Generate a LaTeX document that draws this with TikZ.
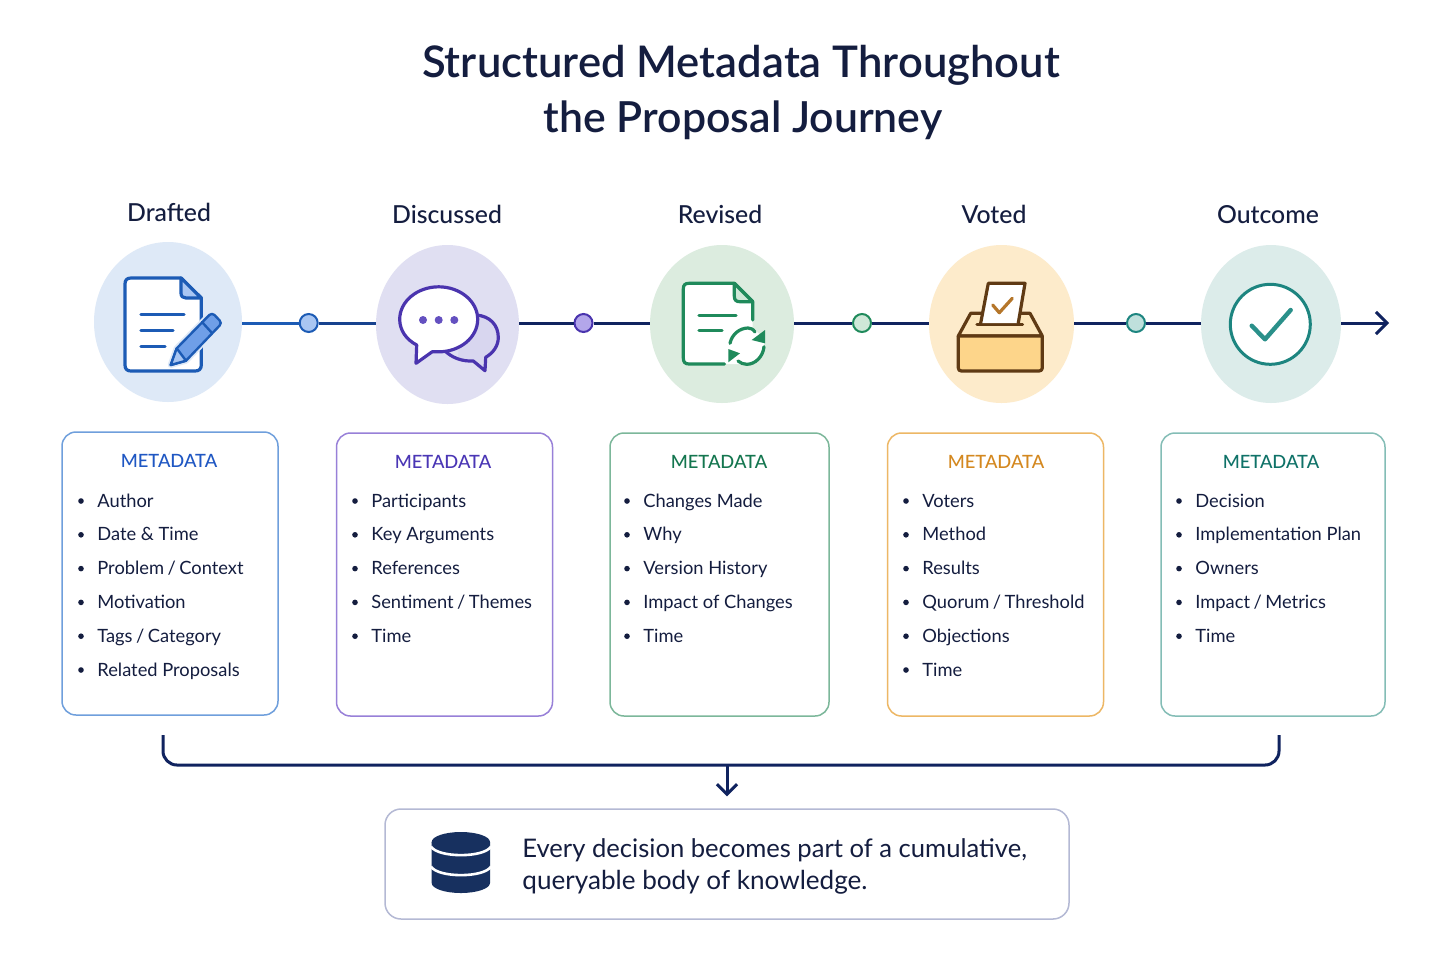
\documentclass[tikz,border=0pt]{standalone}
\usepackage{fontspec}
\setmainfont{Lato}
\newfontfamily\titlefont{Lato Semibold}
\newfontfamily\labelfont{Lato Medium}
\usetikzlibrary{shapes.geometric,arrows.meta}
\definecolor{navy}{HTML}{10235F}
\definecolor{ink}{HTML}{141D3F}
\definecolor{dbnavy}{HTML}{17305F}
\definecolor{bl}{HTML}{1C5BB5}\definecolor{blb}{HTML}{6F9FDC}\definecolor{blt}{HTML}{1F57C3}\definecolor{blc}{HTML}{DEE9F7}\definecolor{bld}{HTML}{A9C6F2}\definecolor{blp}{HTML}{6F9FE8}
\definecolor{pu}{HTML}{4A34AE}\definecolor{pub}{HTML}{9880D8}\definecolor{put}{HTML}{4A36B5}\definecolor{puc}{HTML}{E0DFF2}\definecolor{pud}{HTML}{B3A6EA}\definecolor{pup}{HTML}{D8D6EF}\definecolor{pudot}{HTML}{6450C0}
\definecolor{gr}{HTML}{1F8A5B}\definecolor{grb}{HTML}{7CB79A}\definecolor{grt}{HTML}{14764F}\definecolor{grc}{HTML}{DCECDF}\definecolor{grd}{HTML}{CFE8D8}
\definecolor{or}{HTML}{5F3A14}\definecolor{orb}{HTML}{EDB765}\definecolor{ort}{HTML}{D4881F}\definecolor{orc}{HTML}{FDEBCB}\definecolor{orf}{HTML}{FDD58A}\definecolor{orl}{HTML}{FDE7BD}\definecolor{orck}{HTML}{B5762A}
\definecolor{te}{HTML}{1D8580}\definecolor{teb}{HTML}{84BDB6}\definecolor{tet}{HTML}{0F7268}\definecolor{tec}{HTML}{DCECEA}\definecolor{ted}{HTML}{BFE0DC}\definecolor{teck}{HTML}{2A908A}
\definecolor{sumb}{HTML}{B4B9D4}
\tikzset{
  maintitle/.style={font=\titlefont\fontsize{21.8}{26}\selectfont,text=ink,anchor=base,inner sep=0pt},
  stagelabel/.style={font=\labelfont\fontsize{12.4}{14}\selectfont,text=ink,anchor=base,inner sep=0pt},
  halo/.style={shape=ellipse,draw=none,inner sep=0pt},
  flowdot/.style={circle,inner sep=0pt,minimum size=9pt,line width=1pt},
  flowline/.style={line width=1.5pt},
  metacard/.style={rounded corners=7pt,fill=white,line width=0.75pt,inner sep=0pt,minimum width=108pt,minimum height=141.5pt},
  metahead/.style={font=\labelfont\fontsize{9.15}{11}\selectfont,anchor=base,inner sep=0pt},
  metaitem/.style={font=\fontsize{9.15}{11}\selectfont,text=ink,anchor=base west,inner sep=0pt},
  iconline/.style={line width=1.6pt,line cap=round,line join=round},
  pencilline/.style={line width=1.2pt,line cap=round,line join=round},
  summary/.style={text=ink,anchor=base west,inner sep=0pt},
}
\newcommand{\tsl}{\kern-0.6pt\ /\ \kern-0.6pt}
\newcommand{\metaitems}[3]{% card id, bullet x, list
  \foreach \t [count=\i] in {#3}{
    \pgfmathsetmacro{\yy}{501+(\i-1)*33.8}
    \fill[ink] (#2,\yy) circle (2.8);
    \node[metaitem] (#1i\i) at (#2+16,\yy+6) {\t};
  }}
\begin{document}
\begin{tikzpicture}[x=0.5pt,y=-0.5pt]
\useasboundingbox (0,0) rectangle (1456,971);
\fill[white] (0,0) rectangle (1456,971);
% title
\node[maintitle] (t1) at (741,77) {Structured Metadata Throughout};
\node[maintitle,font=\titlefont\fontsize{21.4}{26}\selectfont] (t2) at (743,132) {the Proposal Journey};
% labels
\node[stagelabel] (l1) at (169,221) {Drafted};
\node[stagelabel] (l2) at (447,223) {Discussed};
\node[stagelabel] (l3) at (720,223) {Revised};
\node[stagelabel] (l4) at (994,223) {Voted};
\node[stagelabel] (l5) at (1268,223) {Outcome};
% stage circles
\node[halo,fill=blc,minimum width=74pt,minimum height=80pt] (c1) at (168,322) {};
\node[halo,fill=puc,minimum width=71.5pt,minimum height=79.5pt] (c2) at (447.5,324.5) {};
\node[halo,fill=grc,minimum width=72pt,minimum height=79pt] (c3) at (722,324) {};
\node[halo,fill=orc,minimum width=72.5pt,minimum height=79pt] (c4) at (1001.5,324) {};
\node[halo,fill=tec,minimum width=70pt,minimum height=79pt] (c5) at (1271,324) {};
% timeline
\node[flowdot,draw=bl,fill=bld] (d1) at (308.7,323) {};
\node[flowdot,draw=pu,fill=pud] (d2) at (583.5,323) {};
\node[flowdot,draw=gr,fill=grd] (d3) at (862,323) {};
\node[flowdot,draw=te,fill=ted] (d4) at (1136,323) {};
\coordinate (tipend) at (1389,323);
\draw[flowline,bl] (c1.east |- d1) -- (d1);
\draw[flowline,bl!55!navy] (d1) -- (c2.west |- d1);
\draw[flowline,navy] (c2.east |- d2) -- (d2);
\draw[flowline,navy] (d2) -- (c3.west |- d2);
\draw[flowline,navy] (c3.east |- d3) -- (d3);
\draw[flowline,navy] (d3) -- (c4.west |- d3);
\draw[flowline,navy] (c4.east |- d4) -- (d4);
\draw[flowline,navy] (d4) -- (c5.west |- d4);
\draw[flowline,navy,-{Straight Barb[length=5.5pt,width=11pt,line width=1.5pt]}] (c5.east |- tipend) -- (tipend);
% Draft icon
\draw[iconline,bl,fill=white] (181,278) -- (131,278) .. controls (127,278) and (125,280) .. (125,284) -- (125,365) .. controls (125,369) and (127,371) .. (131,371) -- (195,371) .. controls (199,371) and (201.3,369) .. (201.3,365) -- (201.3,298) -- cycle;
\draw[iconline,bl,fill=bld] (181,278) -- (181,293) .. controls (181,296.5) and (183,298) .. (186,298) -- (201.3,298) -- cycle;
\draw[iconline,bl] (141,314.7) -- (184,314.7) (141,330.7) -- (173,330.7) (141,346.3) -- (165,346.3);
\path[draw=blc,line width=3pt,line join=round] (170.7,365) -- (176.7,348.3) -- (209.3,315) -- (213.3,314) -- (220.7,321.7) -- (220,325) -- (186,360.7) -- cycle;
\draw[pencilline,bl,fill=blp] (170.7,365) -- (176.7,348.3) -- (209.3,315) .. controls (211,313.5) and (213,313.5) .. (214.5,315) -- (219.7,320.5) .. controls (221,322) and (221,324) .. (219.7,325.5) -- (186,360.7) -- cycle;
\draw[pencilline,bl,fill=bld] (170.7,365) -- (176.7,348.3) -- (186,360.7) -- cycle;
\draw[pencilline,bl] (202,322) -- (212,333);
% Discuss icon
\fill[pup] (458,357) .. controls (462,361) and (468,361.5) .. (473.3,361) -- (485,370.7) -- (485.7,357.3) .. controls (493,353) and (498.3,346) .. (498.3,337.5) .. controls (498.3,325) and (490,316) .. (478,315) -- (460,330) -- cycle;
\draw[iconline,pu] (444,350) .. controls (452,358) and (462,361.5) .. (473.3,361) -- (485,370.7) -- (485.7,357.3) .. controls (493,353) and (498.3,346) .. (498.3,337.5) .. controls (498.3,325) and (490,316) .. (476,315);
\draw[iconline,pu,fill=white] (432.3,351.7) -- (438.7,351.8) .. controls (460.2,351.8) and (477.7,337.3) .. (477.7,319.3) .. controls (477.7,301.4) and (460.2,286.8) .. (438.7,286.8) .. controls (417.2,286.8) and (399.7,301.4) .. (399.7,319.3) .. controls (399.7,330) and (406,339.5) .. (416.7,345) -- (416,363.3) -- cycle;
\foreach \xx in {423,438.7,454.3}{\fill[pudot] (\xx,320) circle (4);}
% Revise icon
\fill[white] (734.3,283.3) -- (689,283.3) .. controls (685,283.3) and (683.3,285) .. (683.3,289) -- (683.3,358) .. controls (683.3,362) and (685,364) .. (689,364) -- (746,364) .. controls (750,364) and (752.7,362) .. (752.7,358) -- (752.7,301.7) -- cycle;
\fill[white] (747.3,346) circle (17);
\draw[iconline,gr] (752.7,320) -- (752.7,301.7) -- (734.3,283.3) -- (689,283.3) .. controls (685,283.3) and (683.3,285) .. (683.3,289) -- (683.3,358) .. controls (683.3,362) and (685,364) .. (689,364) -- (724.5,364);
\draw[iconline,gr,fill=grd] (734.3,283.3) -- (734.3,296) .. controls (734.3,300) and (736,301.7) .. (740,301.7) -- (752.7,301.7) -- cycle;
\draw[iconline,gr] (699,315.3) -- (736,315.3) (699,330.7) -- (722,330.7);
\draw[iconline,gr] (730,343.3) .. controls (732,334) and (740,328) .. (748,328) .. controls (750.5,328) and (753,329) .. (755,332);
\fill[gr] (765,330) -- (765,343.3) -- (751.7,340) -- cycle;
\draw[iconline,gr] (764,346.7) .. controls (763,357) and (755,364.3) .. (746.7,364.3) .. controls (743.5,364.3) and (740.5,363) .. (738,361);
\fill[gr] (728.3,349) -- (728.3,362.3) -- (740,353.3) -- cycle;
% Vote icon
\draw[iconline,or,fill=orl] (958.3,336) -- (970.7,313.3) -- (1030,313.3) -- (1042.3,336) -- cycle;
\draw[iconline,or,fill=orf] (958.3,336) -- (1042.3,336) -- (1042.3,368) .. controls (1042.3,370) and (1041,371) .. (1039,371) -- (961.5,371) .. controls (959.5,371) and (958.3,370) .. (958.3,368) -- cycle;
\draw[iconline,or] (977,324.3) -- (1022.5,324.3);
\draw[iconline,or,fill=white] (980.7,323) -- (988.3,283.3) -- (1025,283.3) -- (1018.3,323);
\draw[iconline,orck] (992.7,305) -- (999.3,312.7) -- (1012.3,298.3);
% Outcome icon
\node[circle,draw=te,fill=white,line width=1.5pt,minimum size=40pt,inner sep=0pt] (okc) at (1270.3,324.3) {};
\draw[teck,line width=2.2pt,line cap=round,line join=round] (1251.7,325.7) -- (1265,339.3) -- (1290.7,310);
% cards
\node[metacard,draw=blb] (m1) at (170,573.5) {};
\node[metacard,draw=pub] (m2) at (444.5,574.5) {};
\node[metacard,draw=grb,minimum width=109.5pt] (m3) at (719.5,574.5) {};
\node[metacard,draw=orb] (m4) at (995.5,574.5) {};
\node[metacard,draw=teb,minimum width=112pt] (m5) at (1273,574.5) {};
\node[metahead,text=blt] (h1) at (169,467) {METADATA};
\node[metahead,text=put] (h2) at (443,468) {METADATA};
\node[metahead,text=grt] (h3) at (719,468) {METADATA};
\node[metahead,text=ort] (h4) at (996,468) {METADATA};
\node[metahead,text=tet] (h5) at (1271,468) {METADATA};
\metaitems{m1}{81}{Author,Date \& Time,Problem\tsl Context,Motivation,Tags\tsl Category,Related Proposals}
\metaitems{m2}{355}{Participants,Key Arguments,References,Sentiment\tsl Themes,Time}
\metaitems{m3}{627}{Changes Made,Why,Version History,Impact of Changes,Time}
\metaitems{m4}{906}{Voters,Method,Results,Quorum\tsl Threshold,Objections,Time}
\metaitems{m5}{1179}{Decision,Implementation Plan,Owners,Impact\tsl Metrics,Time}
% bracket
\coordinate (brl) at (163,735);
\coordinate (brr) at (1279,735);
\coordinate (brm) at (727,765);
\node[draw=sumb,rounded corners=8pt,fill=white,line width=0.75pt,inner sep=0pt,minimum width=342pt,minimum height=55pt] (sum) at (727,864) {};
\draw[flowline,navy,rounded corners=7pt] (brl) -- (brl |- brm) -- (brr |- brm) -- (brr);
\draw[flowline,navy,shorten >=6pt,-{Straight Barb[length=5pt,width=10pt,line width=1.5pt]}] (brm) -- (sum.north);
% db icon
\fill[dbnavy] (431.7,842) -- (431.7,883) .. controls (431.7,888.5) and (444.7,893) .. (460.9,893) .. controls (477,893) and (490,888.5) .. (490,883) -- (490,842) -- cycle;
\fill[dbnavy] (431.7,842) .. controls (431.7,836.5) and (444.7,832) .. (460.9,832) .. controls (477,832) and (490,836.5) .. (490,842) .. controls (490,847.5) and (477,852) .. (460.9,852) .. controls (444.7,852) and (431.7,847.5) .. (431.7,842) -- cycle;
\draw[white,line width=1.3pt] (431,846.5) .. controls (438,858) and (484,858) .. (491,846.5);
\draw[white,line width=1.3pt] (431,866.5) .. controls (438,878) and (484,878) .. (491,866.5);
\node[summary,font=\fontsize{12.8}{16}\selectfont] (s1) at (522,857) {Every decision becomes part of a cumulative,};
\node[summary,font=\fontsize{13.05}{16}\selectfont] (s2) at (522,889) {queryable body of knowledge.};
\end{tikzpicture}
\end{document}
